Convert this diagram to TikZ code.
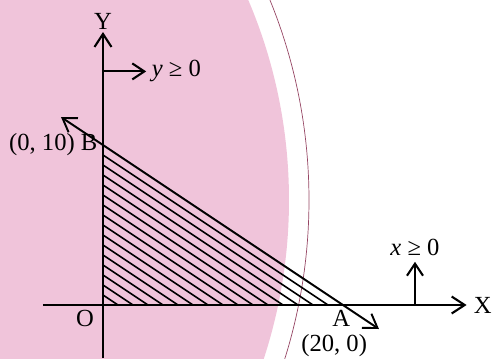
\documentclass[tikz,border=0pt]{standalone}
\usepackage{fontspec}
\setmainfont{Liberation Serif}
\usetikzlibrary{arrows.meta,positioning}

\definecolor{stampbg}{RGB}{240,196,218}
\definecolor{stampline}{RGB}{150,70,100}

\begin{document}
\begin{tikzpicture}[
  x=0.24cm, y=0.32cm,
  font=\fontsize{14}{16}\selectfont,
  axis/.style={line width=1.2pt, -{Straight Barb[length=2.6mm,width=3.4mm]}},
  bound/.style={line width=1.1pt, {Straight Barb[length=2.6mm,width=3.4mm]}-{Straight Barb[length=2.6mm,width=3.4mm]}},
  hatch/.style={line width=0.9pt},
  sense/.style={line width=1.2pt, -{Straight Barb[length=2.4mm,width=3.2mm]}},
  lbl/.style={inner sep=1pt}
]
\useasboundingbox (-8.583,-3.3125) rectangle (32.917,19.0625);

% stamp behind the graph
\begin{scope}
  \clip (-8.583,-3.3125) rectangle (32.917,19.0625);
  \fill[stampbg] (-27,6.5625) circle[radius=10.2cm];
  \draw[stampline, line width=0.4pt] (-27,6.5625) circle[radius=10.6cm];
\end{scope}

\coordinate (O) at (0,0);
\coordinate (B) at (0,10);
\coordinate (A) at (20,0);
\coordinate (ytip) at (0,17.06);
\coordinate (ybot) at (0,-3.32);
\coordinate (xtip) at (30.3,0);
\coordinate (xbot) at (-5,0);
\coordinate (nw) at (-3.5,11.75);
\coordinate (se) at (23,-1.5);

% shaded region x + 2y <= 20
\foreach \c in {1.25,2.5,...,18.75}
  \draw[hatch] (0,\c/2) -- (\c,0);

% axes
\draw[axis] (ybot) -- (ytip);
\draw[axis] (xbot) -- (xtip);
\node[lbl, above=0pt of ytip] (ylab) {Y};
\node[lbl, right=3pt of xtip] (xlab) {X};
\node[lbl, below left=2pt and 4pt of O] (olab) {O};

% boundary line
\draw[bound] (nw) -- (se);

\node[lbl, left=2pt of B] (blab) {(0, 10) B};
\node[lbl, below=2pt of A, xshift=-1pt] (alab) {A};
\node[lbl, below=2pt of alab, xshift=-4pt] (acoord) {(20, 0)};

% sense of the inequalities
\coordinate (yfoot) at (0,14.6);
\coordinate (yhead) at (3.6,14.6);
\draw[sense] (yfoot) -- (yhead);
\node[lbl, right=2pt of yhead] (ygeq) {\textit{y} ≥ 0};

\coordinate (xfoot) at (26,0);
\coordinate (xhead) at (26,2.7);
\draw[sense] (xfoot) -- (xhead);
\node[lbl, above=2pt of xhead] (xgeq) {\textit{x} ≥ 0};
\end{tikzpicture}
\end{document}
